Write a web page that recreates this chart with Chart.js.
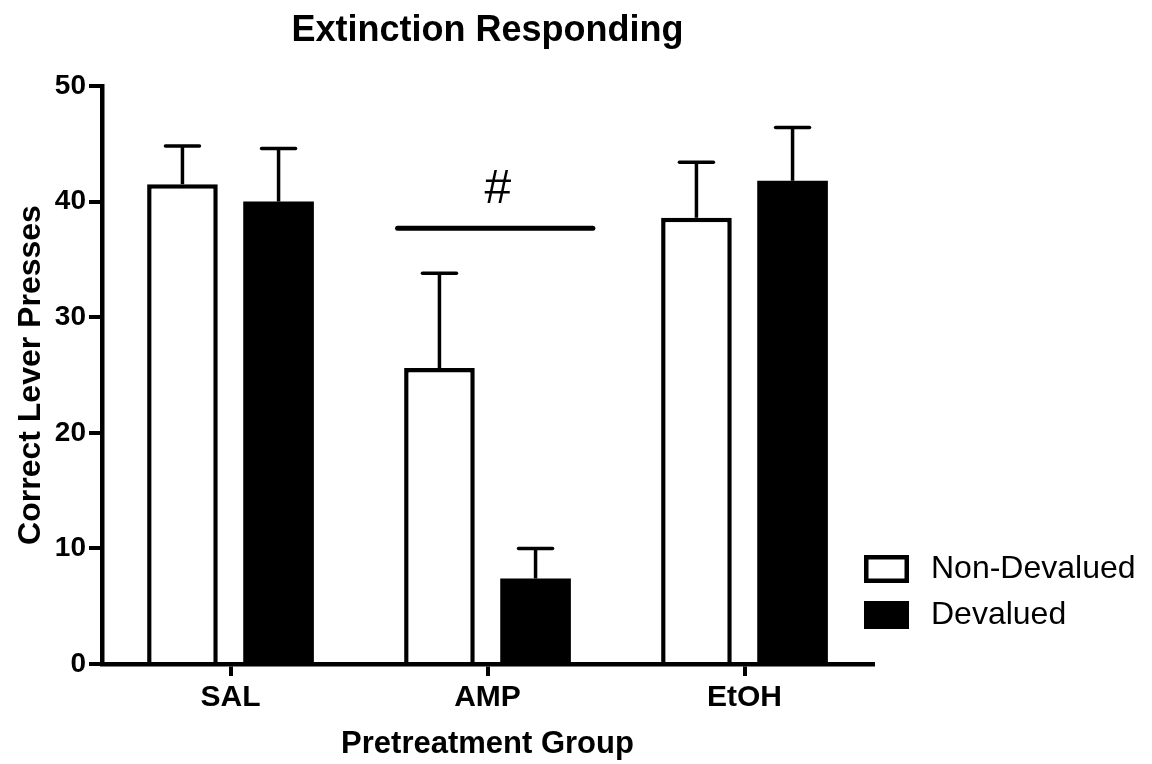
<!DOCTYPE html>
<html>
<head>
<meta charset="utf-8">
<title>Extinction Responding</title>
<script src="https://cdn.jsdelivr.net/npm/chart.js@4.4.1/dist/chart.umd.min.js"></script>
<style>
    html, body { margin: 0; padding: 0; background: #fff; }
    #wrap { width: 1152px; height: 764px; position: relative; }
</style>
</head>
<body>
<div id="wrap"><canvas id="chart"></canvas></div>
<script>
// data
const groups = ["SAL", "AMP", "EtOH"];
const nonDevaluedMeans = [41.5, 25.6, 38.6];
const nonDevaluedSem = [3.3, 8.2, 4.8];
const devaluedMeans = [40.0, 7.4, 41.8];
const devaluedSem = [4.6, 2.6, 4.6];
const yTicks = [0, 10, 20, 30, 40, 50];

// significance bar over AMP (x in group index units)
const sigFrom = 0.65;
const sigTo = 1.41;
const sigY = 37.7;
const sigMark = "#";
const sigMarkX = 1.04;
const sigMarkY = 41.0;

const chartTitle = "Extinction Responding";
const yTitle = "Correct Lever Presses";
const xTitle = "Pretreatment Group";

const font = "'Liberation Sans', Arial, Helvetica, sans-serif";
const ink = "#000";

const errorBars = {
    id: "errorBars",
    afterDatasetsDraw(chart) {
        const { ctx, scales: { y } } = chart;
        ctx.save();
        ctx.strokeStyle = ink;
        ctx.lineWidth = 3.5;
        chart.data.datasets.forEach((ds, di) => {
            const meta = chart.getDatasetMeta(di);
            meta.data.forEach((bar, i) => {
                const top = y.getPixelForValue(ds.data[i].y + ds.sem[i]);
                ctx.beginPath();
                ctx.lineCap = "butt";
                ctx.moveTo(bar.x, bar.y);
                ctx.lineTo(bar.x, top);
                ctx.stroke();
                ctx.beginPath();
                ctx.lineCap = "round";
                ctx.moveTo(bar.x - 17, top);
                ctx.lineTo(bar.x + 17, top);
                ctx.stroke();
            });
        });
        ctx.restore();
    }
};

const extras = {
    id: "extras",
    afterDraw(chart) {
        const { ctx, chartArea, scales: { x, y } } = chart;
        ctx.save();

        // title
        ctx.fillStyle = ink;
        ctx.font = `bold 36px ${font}`;
        ctx.textAlign = "center";
        ctx.textBaseline = "middle";
        ctx.fillText(chartTitle, (chartArea.left + chartArea.right) / 2, 31);

        // significance line
        ctx.strokeStyle = ink;
        ctx.lineWidth = 5;
        ctx.lineCap = "round";
        ctx.beginPath();
        ctx.moveTo(x.getPixelForValue(sigFrom), y.getPixelForValue(sigY));
        ctx.lineTo(x.getPixelForValue(sigTo), y.getPixelForValue(sigY));
        ctx.stroke();
        ctx.font = `48px ${font}`;
        ctx.fillText(sigMark, x.getPixelForValue(sigMarkX), y.getPixelForValue(sigMarkY));

        // legend
        const lx = 864;
        let ly = 555;
        ctx.textAlign = "left";
        ctx.font = `32px ${font}`;
        chart.data.datasets.forEach((ds) => {
            ctx.fillStyle = ds.backgroundColor;
            ctx.fillRect(lx, ly, 45, 28);
            ctx.strokeStyle = ds.borderColor;
            ctx.lineWidth = 4.5;
            ctx.strokeRect(lx + 2.25, ly + 2.25, 45 - 4.5, 28 - 4.5);
            ctx.fillStyle = ink;
            ctx.fillText(ds.label, 931, ly + 14);
            ly += 46;
        });
        ctx.restore();
    }
};

function buildChart() {
    const ref = document.getElementById("chart");
    if (!ref || !window.Chart) {
        return;
    }

    new Chart(ref, {
        type: "bar",
        data: {
            datasets: [
                {
                    label: "Non-Devalued",
                    data: nonDevaluedMeans.map((v, i) => ({ x: i, y: v })),
                    sem: nonDevaluedSem,
                    backgroundColor: "#fff",
                    borderColor: ink,
                    borderWidth: 4.5,
                    borderSkipped: "start"
                },
                {
                    label: "Devalued",
                    data: devaluedMeans.map((v, i) => ({ x: i, y: v })),
                    sem: devaluedSem,
                    backgroundColor: ink,
                    borderColor: ink,
                    borderWidth: 0
                }
            ]
        },
        options: {
            responsive: true,
            maintainAspectRatio: false,
            animation: false,
            categoryPercentage: 0.748,
            barPercentage: 0.735,
            layout: { padding: { top: 86, right: 279, left: 0, bottom: 0 } },
            plugins: {
                legend: { display: false },
                tooltip: { enabled: false },
                title: { display: false }
            },
            scales: {
                x: {
                    type: "linear",
                    min: -0.5,
                    max: 2.5,
                    offset: false,
                    z: 1,
                    afterBuildTicks: (scale) => {
                        scale.ticks = groups.map((g, i) => ({ value: i }));
                    },
                    afterFit: (scale) => { scale.height = 100; },
                    ticks: {
                        autoSkip: false,
                        color: ink,
                        padding: 4,
                        font: { family: font, size: 30, weight: "bold" },
                        callback: (value) => groups[value]
                    },
                    grid: {
                        offset: false,
                        drawOnChartArea: false,
                        color: ink,
                        lineWidth: 4,
                        tickLength: 12
                    },
                    border: { color: ink, width: 4.5 },
                    title: {
                        display: true,
                        text: xTitle,
                        color: ink,
                        padding: { top: 0, bottom: 1 },
                        font: { family: font, size: 31, weight: "bold" }
                    }
                },
                y: {
                    min: 0,
                    max: 50,
                    z: 1,
                    afterBuildTicks: (scale) => {
                        scale.ticks = yTicks.map((v) => ({ value: v }));
                    },
                    afterFit: (scale) => { scale.width = 102; },
                    ticks: {
                        color: ink,
                        padding: 3,
                        font: { family: font, size: 28, weight: "bold" }
                    },
                    grid: {
                        drawOnChartArea: false,
                        color: ink,
                        lineWidth: 4,
                        tickLength: 13
                    },
                    border: { color: ink, width: 4.5 },
                    title: {
                        display: true,
                        text: yTitle,
                        color: ink,
                        padding: { top: 12, bottom: 0 },
                        font: { family: font, size: 32, weight: "bold" }
                    }
                }
            }
        },
        plugins: [errorBars, extras]
    });
}

document.addEventListener("DOMContentLoaded", buildChart);
</script>
</body>
</html>
